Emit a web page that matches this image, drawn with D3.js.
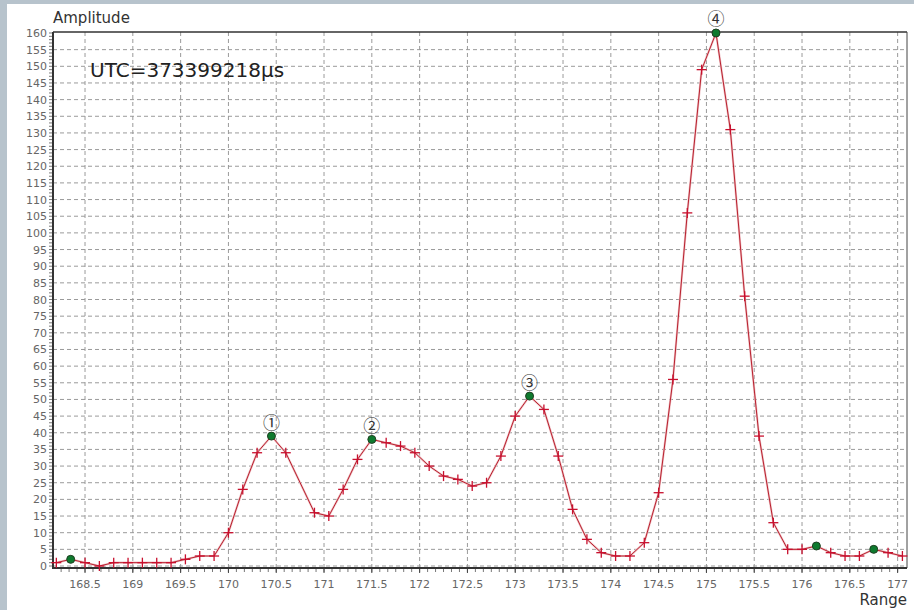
<!DOCTYPE html>
<html>
<head>
<meta charset="utf-8">
<script src="https://cdn.jsdelivr.net/npm/d3@7"></script>
<style>
  html, body { margin: 0; padding: 0; background: #b7c3cc; }
  svg { display: block; }
</style>
</head>
<body>
<div id="chart"></div>
<script>
// range samples (m) and echo amplitude
const ranges = [168.2, 168.35, 168.5, 168.65, 168.8, 168.95, 169.1, 169.25, 169.4, 169.55,
    169.7, 169.85, 170.0, 170.15, 170.3, 170.45, 170.6, 170.9, 171.05, 171.2,
    171.35, 171.5, 171.65, 171.8, 171.95, 172.1, 172.25, 172.4, 172.55, 172.7,
    172.85, 173.0, 173.15, 173.3, 173.45, 173.6, 173.75, 173.9, 174.05, 174.2,
    174.35, 174.5, 174.65, 174.8, 174.95, 175.1, 175.25, 175.4, 175.55, 175.7,
    175.85, 176.0, 176.15, 176.3, 176.45, 176.6, 176.75, 176.9, 177.05];
const amplitudes = [1, 2, 1, 0, 1, 1, 1, 1, 1, 2,
    3, 3, 10, 23, 34, 39, 34, 16, 15, 23,
    32, 38, 37, 36, 34, 30, 27, 26, 24, 25,
    33, 45, 51, 47, 33, 17, 8, 4, 3, 3,
    7, 22, 56, 106, 149, 160, 131, 81, 39, 13,
    5, 5, 6, 4, 3, 3, 5, 4, 3];

// detected peaks (green dots) and the numbered ones
const peakRanges = [168.35, 170.45, 171.5, 173.15, 175.1, 176.15, 176.75];
const labelRanges = [170.45, 171.5, 173.15, 175.1];
const labelTexts = ["①", "②", "③", "④"];

const xTicks = [168.5, 169, 169.5, 170, 170.5, 171, 171.5, 172, 172.5, 173, 173.5, 174, 174.5, 175, 175.5, 176, 176.5, 177];
const yTicks = d3.range(0, 161, 5);

const utcText = "UTC=373399218μs";

const W = 914, H = 610;
const margin = { top: 32, right: 7, bottom: 42, left: 53 };

const svg = d3.select("#chart").append("svg")
    .attr("width", W)
    .attr("height", H);

// white panel
svg.append("rect")
    .attr("x", 7).attr("y", 4)
    .attr("width", W - 7).attr("height", H - 4)
    .attr("fill", "#ffffff");

const x = d3.scaleLinear()
    .domain([168.165, 177.098])
    .range([margin.left, W - margin.right]);

const y = d3.scaleLinear()
    .domain([-0.6, 160.3])
    .range([H - margin.bottom, margin.top]);

const font = "'DejaVu Sans', sans-serif";

// grid
svg.append("g")
    .selectAll("line")
    .data(xTicks)
    .join("line")
    .attr("x1", d => x(d)).attr("x2", d => x(d))
    .attr("y1", margin.top).attr("y2", H - margin.bottom)
    .attr("stroke", "#9a9a9a")
    .attr("stroke-dasharray", "4,3");

svg.append("g")
    .selectAll("line")
    .data(yTicks.filter(d => d < 160))
    .join("line")
    .attr("x1", margin.left).attr("x2", W - margin.right)
    .attr("y1", d => y(d)).attr("y2", d => y(d))
    .attr("stroke", "#9a9a9a")
    .attr("stroke-dasharray", "4,3");

// frame: top and right thin, left and bottom heavier
svg.append("line")
    .attr("x1", margin.left).attr("x2", W - margin.right)
    .attr("y1", margin.top).attr("y2", margin.top)
    .attr("stroke", "#333").attr("stroke-width", 1.5);
svg.append("line")
    .attr("x1", W - margin.right).attr("x2", W - margin.right)
    .attr("y1", margin.top).attr("y2", H - margin.bottom)
    .attr("stroke", "#444").attr("stroke-width", 1);

// y axis with minor ticks every unit
const yAxis = svg.append("g")
    .attr("transform", `translate(${margin.left},0)`);
yAxis.selectAll(".minor")
    .data(d3.range(0, 161, 1))
    .join("line")
    .attr("x1", -4).attr("x2", 0)
    .attr("y1", d => y(d)).attr("y2", d => y(d))
    .attr("stroke", "#555").attr("stroke-width", 0.8);
yAxis.selectAll("text")
    .data(yTicks)
    .join("text")
    .attr("x", -6)
    .attr("y", d => y(d) + 4)
    .attr("text-anchor", "end")
    .attr("font-family", font)
    .attr("font-size", 11)
    .attr("fill", "#666")
    .text(d => d);
yAxis.append("line")
    .attr("x1", 0).attr("x2", 0)
    .attr("y1", margin.top).attr("y2", H - margin.bottom + 1)
    .attr("stroke", "#333").attr("stroke-width", 2);

// x axis with minor ticks
const xAxis = svg.append("g")
    .attr("transform", `translate(0,${H - margin.bottom})`);
xAxis.selectAll(".minor")
    .data(d3.range(168.25, 177.05, 1 / 12))
    .join("line")
    .attr("x1", d => x(d)).attr("x2", d => x(d))
    .attr("y1", 0).attr("y2", 4)
    .attr("stroke", "#555").attr("stroke-width", 0.8);
xAxis.selectAll(".major")
    .data(xTicks)
    .join("line")
    .attr("x1", d => x(d)).attr("x2", d => x(d))
    .attr("y1", 0).attr("y2", 5)
    .attr("stroke", "#444").attr("stroke-width", 1);
xAxis.selectAll("text")
    .data(xTicks)
    .join("text")
    .attr("x", d => x(d))
    .attr("y", 20)
    .attr("text-anchor", "middle")
    .attr("font-family", font)
    .attr("font-size", 11)
    .attr("fill", "#666")
    .text(d => d);
xAxis.append("line")
    .attr("x1", margin.left - 1).attr("x2", W - margin.right)
    .attr("y1", 0).attr("y2", 0)
    .attr("stroke", "#333").attr("stroke-width", 2);

// axis titles
svg.append("text")
    .attr("x", 53).attr("y", 23)
    .attr("font-family", font).attr("font-size", 15)
    .attr("fill", "#333")
    .text("Amplitude");
svg.append("text")
    .attr("x", W - margin.right).attr("y", 605)
    .attr("text-anchor", "end")
    .attr("font-family", font).attr("font-size", 15)
    .attr("fill", "#333")
    .text("Range");

svg.append("text")
    .attr("x", 90).attr("y", 77)
    .attr("font-family", font).attr("font-size", 20)
    .attr("fill", "#222")
    .text(utcText);

// trace
const data = ranges.map((r, i) => ({ r, a: amplitudes[i] }));
const line = d3.line().x(d => x(d.r)).y(d => y(d.a));

svg.append("path")
    .datum(data)
    .attr("fill", "none")
    .attr("stroke", "#f0c4c8")
    .attr("stroke-width", 2.2)
    .attr("d", line);
svg.append("path")
    .datum(data)
    .attr("fill", "none")
    .attr("stroke", "#b8202e")
    .attr("stroke-width", 1)
    .attr("d", line);

const isPeak = d => peakRanges.some(p => Math.abs(p - d.r) < 1e-6);

// sample crosses
const cross = svg.append("g")
    .selectAll("g")
    .data(data.filter(d => !isPeak(d)))
    .join("g")
    .attr("transform", d => `translate(${x(d.r)},${y(d.a)})`);
cross.append("line")
    .attr("x1", -5).attr("x2", 5).attr("y1", 0).attr("y2", 0)
    .attr("stroke", "#c8102e").attr("stroke-width", 1.3);
cross.append("line")
    .attr("x1", 0).attr("x2", 0).attr("y1", -5).attr("y2", 5)
    .attr("stroke", "#c8102e").attr("stroke-width", 1.3);

// peak dots
svg.append("g")
    .selectAll("circle")
    .data(data.filter(isPeak))
    .join("circle")
    .attr("cx", d => x(d.r))
    .attr("cy", d => y(d.a))
    .attr("r", 4)
    .attr("fill", "#0e7a2e")
    .attr("stroke", "#1f3f22")
    .attr("stroke-width", 1);

// numbered peak labels
svg.append("g")
    .selectAll("text")
    .data(labelRanges)
    .join("text")
    .attr("x", r => x(r))
    .attr("y", (r) => y(amplitudes[ranges.findIndex(v => Math.abs(v - r) < 1e-6)]) - 15)
    .attr("text-anchor", "middle")
    .attr("dominant-baseline", "central")
    .attr("font-family", "'Noto Sans CJK JP', 'DejaVu Sans', sans-serif")
    .attr("font-size", 17)
    .attr("fill", "#333")
    .text((r, i) => labelTexts[i]);
</script>
</body>
</html>
